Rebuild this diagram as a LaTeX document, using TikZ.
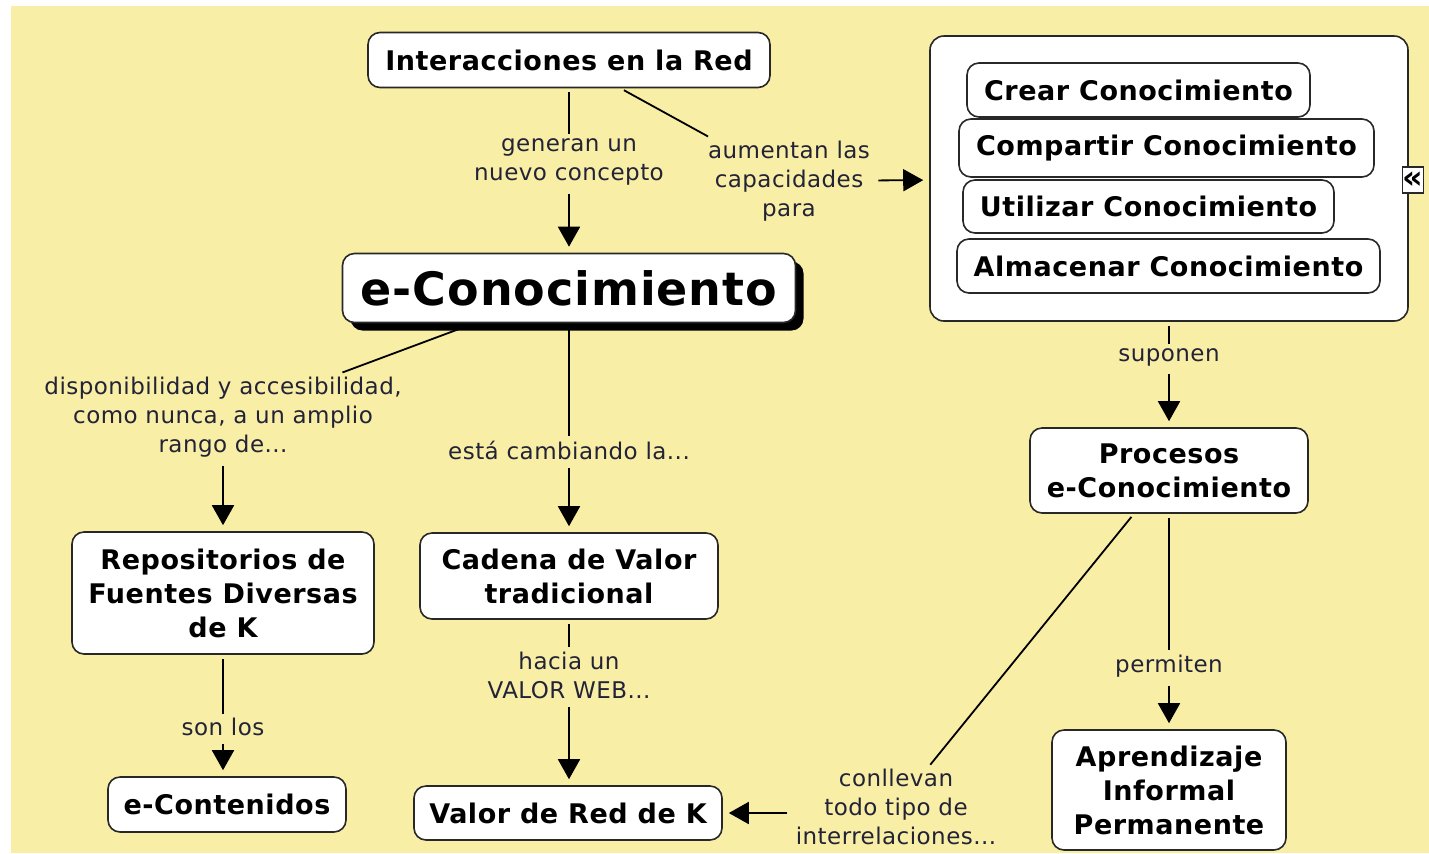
\documentclass[tikz,border=0pt]{standalone}
\usepackage{fontspec}
\setmainfont{DejaVu Sans}[LetterSpace=2]
\usepackage{tikz}
\usetikzlibrary{arrows.meta}
\usetikzlibrary{positioning}
\usetikzlibrary{shadows}

\definecolor{fondo}{RGB}{248,238,166}
\definecolor{borde}{RGB}{40,40,40}
\definecolor{enlace}{RGB}{35,35,55}

\tikzset{
  concepto/.style={draw=borde, line width=0.8pt, fill=white, rounded corners=6pt, align=center,
    font=\bfseries\fontsize{13.5}{17}\selectfont, inner sep=0pt},
  frase/.style={text=enlace, align=center, font=\fontsize{11.5}{14.5}\selectfont, inner sep=2pt},
  linea/.style={line width=0.9pt, shorten <=2pt},
  flecha/.style={linea, -{Triangle[length=10pt,width=11pt]}, shorten >=3pt},
}

\begin{document}
\begin{tikzpicture}[x=0.5pt, y=-0.5pt]
    \useasboundingbox (0,0) rectangle (1429,853);
    % Fondo
    \fill[fondo] (11,6) rectangle (1429,853);

    % Conceptos
    \node[concepto, minimum width=201pt, minimum height=27.5pt] (inter) at (569,60) {Interacciones en la Red};
    \node[concepto, font=\bfseries\fontsize{23}{26}\selectfont, minimum width=226.5pt, minimum height=34.5pt,
      drop shadow={fill=black, opacity=1, shadow xshift=4pt, shadow yshift=-4pt}] (econ) at (569,288) {e-Conocimiento};

    % Grupo de procesos
    \node[draw=borde, line width=0.8pt, fill=white, rounded corners=7pt, minimum width=239pt, minimum height=142.5pt] (cont) at (1169,178.5) {};
    \node[concepto, minimum width=171.5pt, minimum height=27pt] (crear) at (1138.5,90) {Crear Conocimiento};
    \node[concepto, minimum width=207.5pt, minimum height=29pt] (compartir) at (1166.5,148) {Compartir Conocimiento};
    \node[concepto, minimum width=185.5pt, minimum height=26.5pt] (utilizar) at (1148.5,206.5) {Utilizar Conocimiento};
    \node[concepto, minimum width=211.5pt, minimum height=27pt] (almacenar) at (1168.5,266) {Almacenar Conocimiento};
    \node[draw=borde, fill=white, line width=0.8pt, minimum width=10pt, minimum height=13pt, inner sep=0pt,
      font=\bfseries\fontsize{16}{16}\selectfont] (plegar) at (1413,180) {«};

    \node[concepto, minimum width=139pt, minimum height=42.5pt] (procesos) at (1169,470.5) {Procesos\\e-Conocimiento};
    \node[concepto, minimum width=151pt, minimum height=61pt] (repos) at (223,593) {Repositorios de\\Fuentes Diversas\\de K};
    \node[concepto, minimum width=149pt, minimum height=43pt] (cadena) at (569,576) {Cadena de Valor\\tradicional};
    \node[concepto, minimum width=119pt, minimum height=27.5pt] (econt) at (227,804.5) {e-Contenidos};
    \node[concepto, minimum width=154pt, minimum height=27pt] (valor) at (568,813) {Valor de Red de K};
    \node[concepto, minimum width=117pt, minimum height=60pt] (aprend) at (1169,790) {Aprendizaje\\Informal\\Permanente};

    % Frases de enlace
    \node[frase] (generan) at (569,162) {generan un\\nuevo concepto};
    \node[frase] (aumentan) at (789,181) {aumentan las\\capacidades\\para};
    \node[frase] (dispon) at (223,417) {disponibilidad y accesibilidad,\\como nunca, a un amplio\\rango de...};
    \node[frase] (cambiando) at (569,450) {está cambiando la...};
    \node[frase] (hacia) at (569,675) {hacia un\\VALOR WEB...};
    \node[frase] (sonlos) at (223,727) {son los};
    \node[frase] (suponen) at (1169,357) {suponen};
    \node[frase] (permiten) at (1169,666) {permiten};
    \node[frase] (conllevan) at (896,807) {conllevan\\todo tipo de\\interrelaciones...};

    % Conexiones
    \draw[linea] (inter) -- (generan);
    \draw[flecha] (generan) -- (econ);
    \draw[linea] (inter) -- (aumentan);
    \draw[flecha] (aumentan) -- (cont);
    \draw[linea] (econ) -- (dispon);
    \draw[flecha] (dispon) -- (repos);
    \draw[linea] (econ) -- (cambiando);
    \draw[flecha] (cambiando) -- (cadena);
    \draw[linea] (cadena) -- (hacia);
    \draw[flecha] (hacia) -- (hacia |- valor.north);
    \draw[linea] (repos) -- (sonlos);
    \draw[flecha] (sonlos) -- (sonlos |- econt.north);
    \draw[linea] (cont) -- (suponen);
    \draw[flecha] (suponen) -- (procesos);
    \draw[linea] (procesos) -- (permiten);
    \draw[flecha] (permiten) -- (aprend);
    \draw[linea] (procesos) -- (conllevan);
    \draw[flecha] (valor.east -| conllevan.west) -- (valor.east);
\end{tikzpicture}
\end{document}
